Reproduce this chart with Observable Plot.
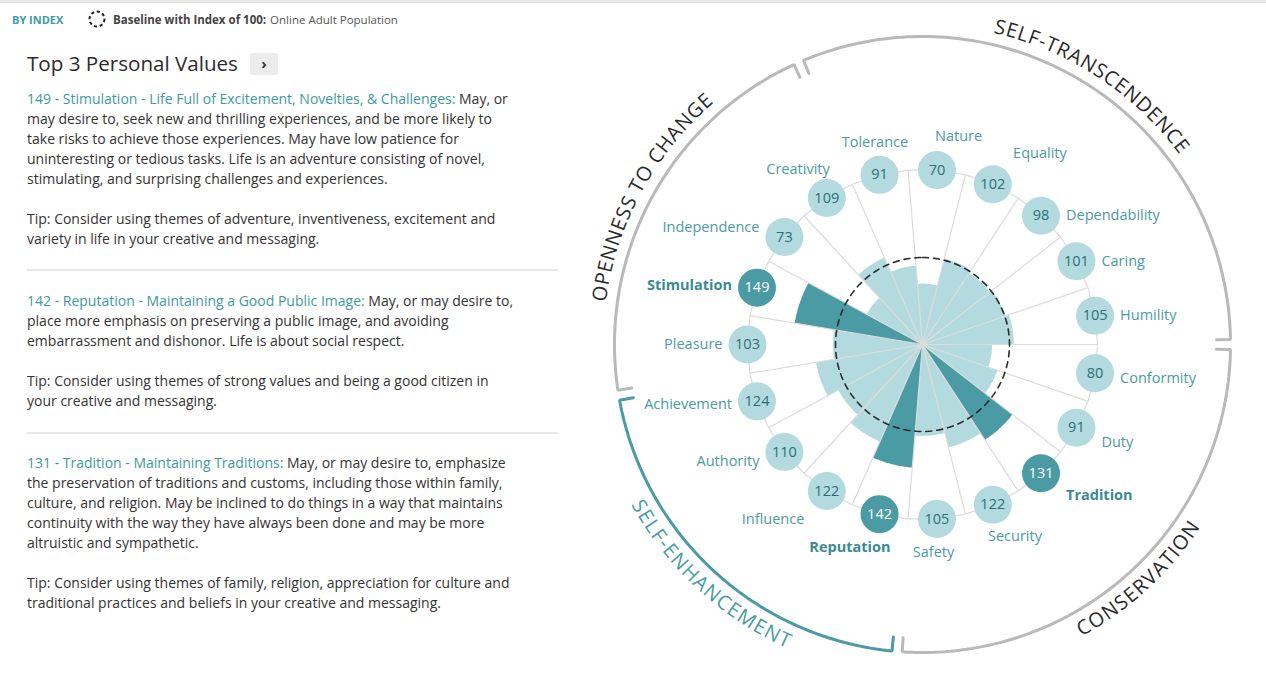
<!DOCTYPE html>
<html>
<head>
<meta charset="utf-8">
<script src="https://cdn.jsdelivr.net/npm/d3@7"></script>
<script src="https://cdn.jsdelivr.net/npm/@observablehq/plot@0.6"></script>
<style>
  html, body { margin: 0; padding: 0; }
  body { width: 1266px; height: 678px; overflow: hidden; position: relative; background: #fff;
         font-family: "Open Sans", sans-serif; color: #333; }
  #topline { position: absolute; left: 0; top: 0; width: 1266px; height: 3px; background: #e6e6e6; }
  #byindex { position: absolute; left: 12px; top: 12px; font-size: 11px; font-weight: 700; color: #3d9aa1; }
  #baseline { position: absolute; left: 88px; top: 10px; font-size: 11.5px; color: #555; display: flex; align-items: center; }
  #baseline svg { margin-right: 7px; }
  #baseline b { color: #444; margin-right: 4px; }
  #title { position: absolute; left: 27px; top: 49px; font-size: 20.6px; color: #2b2b2b; font-weight: 400; }
  #btn { position: absolute; left: 250px; top: 53px; width: 28px; height: 22px; background: #ececec; border-radius: 2px;
         font-size: 15px; font-weight: 700; color: #333; text-align: center; line-height: 21px; }
  .blk { position: absolute; left: 27px; width: 540px; font-size: 14px; line-height: 20px; color: #333; white-space: nowrap; }
  .blk .hd { color: #3d9aa1; font-weight: 500; }
  .sep { position: absolute; left: 27px; width: 531px; height: 2px; background: #e8e8e8; }
  #chart { position: absolute; left: 580px; top: 0px; }
</style>
</head>
<body>
<div id="topline"></div>
<div id="byindex">BY INDEX</div>
<div id="baseline">
  <svg width="18" height="18" viewBox="0 0 18 18"><circle cx="9" cy="9" r="7.5" fill="none" stroke="#222" stroke-width="2" stroke-dasharray="3.2,2.6"/></svg>
  <b>Baseline with Index of 100:</b> Online Adult Population
</div>
<div id="title">Top 3 Personal Values</div>
<div id="btn">&#8250;</div>

<div class="blk" style="top:89px"><span class="hd">149 - Stimulation - Life Full of Excitement, Novelties, &amp; Challenges:</span> May, or<br>may desire to, seek new and thrilling experiences, and be more likely to<br>take risks to achieve those experiences. May have low patience for<br>uninteresting or tedious tasks. Life is an adventure consisting of novel,<br>stimulating, and surprising challenges and experiences.<br><br>Tip: Consider using themes of adventure, inventiveness, excitement and<br>variety in life in your creative and messaging.</div>
<div class="sep" style="top:269px"></div>
<div class="blk" style="top:291px"><span class="hd">142 - Reputation - Maintaining a Good Public Image:</span> May, or may desire to,<br>place more emphasis on preserving a public image, and avoiding<br>embarrassment and dishonor. Life is about social respect.<br><br>Tip: Consider using themes of strong values and being a good citizen in<br>your creative and messaging.</div>
<div class="sep" style="top:432px"></div>
<div class="blk" style="top:453px"><span class="hd">131 - Tradition - Maintaining Traditions:</span> May, or may desire to, emphasize<br>the preservation of traditions and customs, including those within family,<br>culture, and religion. May be inclined to do things in a way that maintains<br>continuity with the way they have always been done and may be more<br>altruistic and sympathetic.<br><br>Tip: Consider using themes of family, religion, appreciation for culture and<br>traditional practices and beliefs in your creative and messaging.</div>

<div id="chart"></div>

<script>
// ---------------- DATA ----------------
const categories = ["Tolerance", "Nature", "Equality", "Dependability", "Caring", "Humility",
  "Conformity", "Duty", "Tradition", "Security", "Safety",
  "Reputation", "Influence", "Authority", "Achievement",
  "Pleasure", "Stimulation", "Independence", "Creativity"];
const indexValues = [91, 70, 102, 98, 101, 105, 80, 91, 131, 122, 105, 142, 122, 110, 124, 103, 149, 73, 109];
const top3 = ["Stimulation", "Reputation", "Tradition"];
const groupNames = ["SELF-TRANSCENDENCE", "CONSERVATION", "SELF-ENHANCEMENT", "OPENNESS TO CHANGE"];
const groupSizes = [6, 5, 4, 4];
const highlightedGroup = "SELF-ENHANCEMENT";
const baselineIndex = 100;

// ---------------- STYLE ----------------
const LIGHT = "#b3dbdf", DARK = "#4a9ba3";
const LABEL = "#4a9ba3", LABEL_BOLD = "#3a8b93";
const VALUE_TXT = "#2c6f76";
const RING_GREY = "#b9b9b9";
const FONT = "Open Sans";

// ---------------- GEOMETRY ----------------
const W = 686, H = 678, CX = 342, CY = 344;           // centre of the polar layout inside the svg
const rad = d => d * Math.PI / 180;
const n = categories.length;
const step = 360 / n;
const start0 = 90 - groupSizes[0] * step;              // first group ends at 3 o'clock
const rIndex = d3.scaleLinear([0, 100], [0, 87]);      // radial scale for index values
const R_BUBBLE = 175, R_RING = 308, R_TEXT = 326, BUBBLE_R = 19;
const pt = (a, r) => ({x: r * Math.sin(rad(a)), y: r * Math.cos(rad(a))});

const rows = categories.map((name, i) => ({
  name, value: indexValues[i], top: top3.includes(name),
  a0: start0 + i * step, a1: start0 + (i + 1) * step, am: start0 + (i + 0.5) * step
}));

// wedges
const wedges = rows.flatMap(d => {
  const r = rIndex(d.value);
  const pts = [pt(0, 0)];
  for (let k = 0; k <= 16; k++) pts.push(pt(d.a0 + (d.a1 - d.a0) * k / 16, r));
  pts.push(pt(0, 0));
  return pts.map(p => ({...p, id: d.name, fill: d.top ? DARK : LIGHT}));
});

// spokes at category boundaries
const spokes = rows.map(d => {const p = pt(d.a0, R_BUBBLE); return {x1: 0, y1: 0, x2: p.x, y2: p.y};});

// guide polygon through boundaries and bubble centres
const guide = rows.flatMap(d => [pt(d.a0, R_BUBBLE), pt(d.am, R_BUBBLE)]);
guide.push(guide[0]);

// baseline circle
const baseCircle = d3.range(0, 361, 2).map(a => pt(a, rIndex(baselineIndex)));

// bubbles
const bubbles = rows.map(d => ({...pt(d.am, R_BUBBLE), ...d,
  fill: d.top ? DARK : LIGHT, tfill: d.top ? "#ffffff" : VALUE_TXT}));

// category labels: beside the bubble on the flanks, above/below it near the poles
function labelLayout(a) {
  const s = Math.sin(rad(a)), c = Math.cos(rad(a));
  if (Math.abs(s) > 0.56) {
    let dy;
    if (s > 0) dy = c > 0 ? 0 : -c * 30;
    else dy = -Math.sign(c) * c * c * 25;
    return {dx: Math.sign(s) * 25, dy, anchor: s > 0 ? "start" : "end"};
  }
  return {dx: 80 * s + (c > 0 ? 15 : -10), dy: -34 * c, anchor: "middle"};
}
const labels = bubbles.map(b => {
  const L = labelLayout(b.am);
  return {x: b.x + L.dx, y: b.y - L.dy, anchor: L.anchor, name: b.name, top: b.top};
});

// group rings with bracket hooks
let acc = start0;
const groups = groupNames.map((g, i) => {
  const s = acc, e = acc + groupSizes[i] * step; acc = e;
  return {name: g, s, e, mid: (s + e) / 2, color: g === highlightedGroup ? DARK : RING_GREY,
          tcolor: g === highlightedGroup ? DARK : "#2a2a2a"};
});
const GAP = 0.95, HOOK = 14;
const ringPts = groups.flatMap(g => {
  const a0 = g.s + GAP, a1 = g.e - GAP;
  const pts = [pt(a0, R_RING - HOOK)];
  const k = Math.ceil((a1 - a0) / 1);
  for (let j = 0; j <= k; j++) pts.push(pt(a0 + (a1 - a0) * j / k, R_RING));
  pts.push(pt(a1, R_RING - HOOK));
  return pts.map(p => ({...p, id: g.name, stroke: g.color}));
});

// curved group titles, one letter at a time
const ctx = document.createElement("canvas").getContext("2d");
const ARC_FS = 20, ARC_SP = 1.0;
ctx.font = `${ARC_FS}px "${FONT}"`;
const letters = groups.flatMap(g => {
  const chars = [...g.name];
  const widths = chars.map(ch => ctx.measureText(ch).width + ARC_SP);
  const total = d3.sum(widths) - ARC_SP;
  const span = total / R_TEXT * 180 / Math.PI;
  const bottom = Math.cos(rad(g.mid)) < 0;
  let cum = 0;
  return chars.map((ch, i) => {
    const off = (cum + (widths[i] - ARC_SP) / 2) / R_TEXT * 180 / Math.PI;
    cum += widths[i];
    const a = bottom ? g.mid + span / 2 - off : g.mid - span / 2 + off;
    return {...pt(a, R_TEXT), ch, rot: bottom ? a - 180 : a, color: g.tcolor};
  });
});

// ---------------- PLOT ----------------
const labelMarks = [];
for (const anchor of ["start", "middle", "end"]) {
  for (const bold of [false, true]) {
    labelMarks.push(Plot.text(labels.filter(d => d.anchor === anchor && d.top === bold), {
      x: "x", y: "y", text: "name", textAnchor: anchor, fontSize: 14.5, fontFamily: FONT,
      fontWeight: bold ? 700 : 400, fill: bold ? LABEL_BOLD : LABEL
    }));
  }
}

const chart = Plot.plot({
  width: W, height: H, margin: 0,
  x: {domain: [-CX, W - CX], axis: null},
  y: {domain: [-(H - CY), CY], axis: null},
  style: {background: "transparent", overflow: "visible"},
  marks: [
    Plot.line(wedges, {x: "x", y: "y", z: "id", fill: "fill", stroke: "none"}),
    Plot.link(spokes, {x1: "x1", y1: "y1", x2: "x2", y2: "y2", stroke: "#dcdcdc", strokeWidth: 1.2}),
    Plot.line(guide, {x: "x", y: "y", stroke: "#dcdcdc", strokeWidth: 1.2}),
    Plot.line(baseCircle, {x: "x", y: "y", stroke: "#2a2a2a", strokeWidth: 1.6, strokeDasharray: "6,5"}),
    Plot.dot(bubbles, {x: "x", y: "y", r: BUBBLE_R, fill: "fill", stroke: "none"}),
    Plot.text(bubbles, {x: "x", y: "y", text: d => String(d.value), fill: "tfill", fontSize: 14.5, fontFamily: FONT, fontWeight: 500}),
    ...labelMarks,
    Plot.line(ringPts, {x: "x", y: "y", z: "id", stroke: "stroke", strokeWidth: 3, strokeLinejoin: "miter"}),
    Plot.text(letters, {x: "x", y: "y", text: "ch", rotate: "rot", fill: "color", fontSize: ARC_FS, fontFamily: FONT})
  ]
});
document.getElementById("chart").appendChild(chart);
</script>
</body>
</html>
